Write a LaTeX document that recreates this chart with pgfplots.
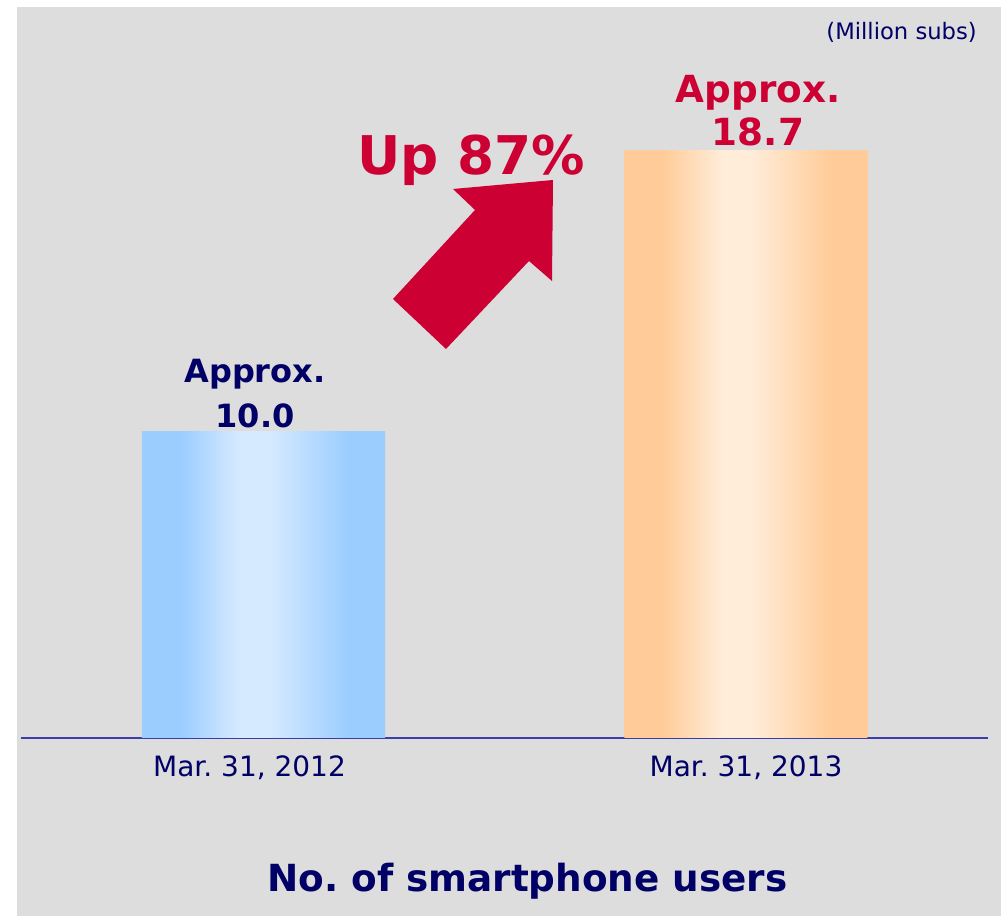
\documentclass[border=0pt]{standalone}
\usepackage{fontspec}
\setmainfont{DejaVu Sans}
\usepackage{pgfplots}
\pgfplotsset{compat=1.18}

\definecolor{bggray}{RGB}{221,221,221}
\definecolor{navy}{RGB}{0,0,102}
\definecolor{upred}{RGB}{204,0,51}
\definecolor{axisblue}{RGB}{60,60,170}
\definecolor{bdark}{RGB}{155,205,255}
\definecolor{blight}{RGB}{214,234,255}
\definecolor{odark}{RGB}{255,204,153}
\definecolor{olight}{RGB}{255,236,217}

% centre 50bp of the shading is what lands on the bar
\pgfdeclarehorizontalshading{bluebar}{100bp}{color(0bp)=(bdark); color(33bp)=(bdark);
  color(45bp)=(blight); color(51bp)=(blight); color(67.5bp)=(bdark); color(100bp)=(bdark)}
\pgfdeclarehorizontalshading{orangebar}{100bp}{color(0bp)=(odark); color(33bp)=(odark);
  color(45bp)=(olight); color(51bp)=(olight); color(67.5bp)=(odark); color(100bp)=(odark)}

\begin{document}
\frenchspacing
\begin{tikzpicture}[x=0.75pt,y=0.75pt]
  \path[use as bounding box] (0,0) rectangle (1001,916);
  \fill[white] (0,0) rectangle (1001,916);
  \fill[bggray] (17,0) rectangle (1001,909);

  \begin{axis}[
      at={(15.75pt,133.5pt)}, anchor=south west,
      scale only axis,
      width=725.25pt, height=478.5pt,
      xmin=-0.5026, xmax=1.5016,
      ymin=0.526, ymax=20.279,
      clip mode=individual,
      hide y axis,
      axis x line*=bottom,
      x axis line style={draw=axisblue, line width=1.3pt},
      % first label sits a little left of its bar, as in the original slide
      xtick={-0.029,1},
      xticklabels={{Mar. 31, 2012},{Mar. 31, 2013}},
      major tick length=0pt,
      xticklabel style={font=\fontsize{21}{25}\selectfont, text=navy, yshift=-9.5pt},
    ]
    \addplot[ybar, bar width=182.25pt, bar shift=0pt, draw=none,
             shade, shading=bluebar, shading angle=0]
      coordinates {(0,10.0)};
    \addplot[ybar, bar width=182.25pt, bar shift=0pt, draw=none,
             shade, shading=orangebar, shading angle=0]
      coordinates {(1,18.7)};

    \node[anchor=south, inner sep=0pt, align=center, text=navy,
          font=\fontsize{24}{33.5}\selectfont\bfseries, xshift=-6.4pt, yshift=3pt]
      at (axis cs:0,10.0) {Approx.\\10.0};
    \node[anchor=south, inner sep=0pt, align=center, text=upred,
          font=\fontsize{28}{32}\selectfont\bfseries, xshift=9pt, yshift=3.75pt]
      at (axis cs:1,18.7) {Approx.\\18.7};
  \end{axis}

  % growth arrow
  \fill[upred] (553,736) -- (453,727) -- (475,706) -- (393,617)
               -- (446,567) -- (529,655) -- (552,635) -- cycle;
  \node[anchor=base west, inner sep=0pt, text=upred,
        font=\fontsize{40}{48}\selectfont\bfseries] at (357,741) {Up 87\%};

  \node[anchor=base east, inner sep=0pt, text=navy,
        font=\fontsize{17}{20}\selectfont] at (977,876) {(Million subs)};
  \node[anchor=base, inner sep=0pt, text=navy,
        font=\fontsize{28}{33}\selectfont\bfseries] at (527.5,24) {No. of smartphone users};
\end{tikzpicture}
\end{document}
